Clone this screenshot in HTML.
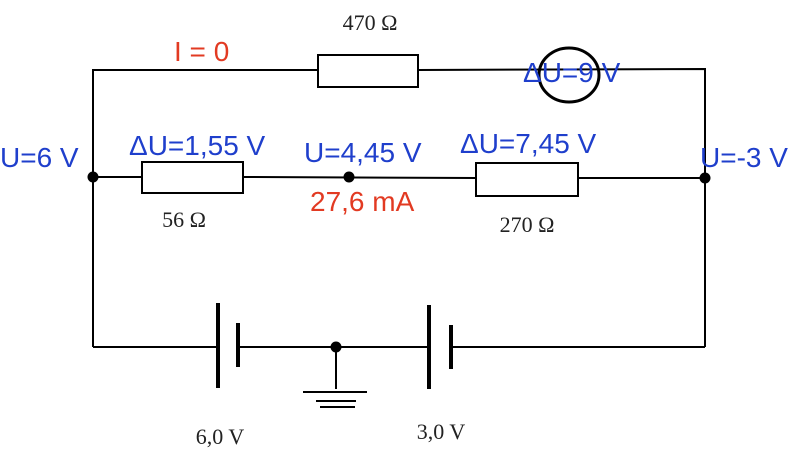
<!DOCTYPE html>
<html><head><meta charset="utf-8"><style>
html,body{margin:0;padding:0;background:#fff;width:800px;height:455px;overflow:hidden}
.s{font-family:"Liberation Sans",sans-serif}
.r{font-family:"Liberation Serif",serif}
</style></head><body>
<svg width="800" height="455" viewBox="0 0 800 455" xmlns="http://www.w3.org/2000/svg">
<g stroke="#000" stroke-width="2" fill="none">
<polyline points="93,347 93,70 318,70"/>
<polyline points="418,70 705,69 705,347"/>
<rect x="318" y="55" width="100" height="32" fill="#fff"/>
<line x1="93" y1="177" x2="142" y2="177"/>
<line x1="243" y1="177" x2="476" y2="178"/>
<line x1="578" y1="178" x2="705" y2="178"/>
<rect x="142" y="162" width="101" height="31" fill="#fff"/>
<rect x="476" y="163" width="102" height="33" fill="#fff"/>
<line x1="93" y1="347" x2="216" y2="347"/>
<line x1="240" y1="347" x2="427" y2="347"/>
<line x1="451" y1="347" x2="705" y2="347"/>
<line x1="336" y1="347" x2="336" y2="389"/>
<line x1="303" y1="392" x2="367" y2="392"/>
<line x1="316" y1="401" x2="356" y2="401"/>
<line x1="320" y1="407" x2="355" y2="407"/>
</g>
<g stroke="#000" stroke-width="4">
<line x1="218" y1="303" x2="218" y2="388"/>
<line x1="238" y1="323" x2="238" y2="367"/>
<line x1="429" y1="305" x2="429" y2="389"/>
<line x1="451" y1="325" x2="451" y2="369"/>
</g>
<ellipse cx="569" cy="75" rx="30" ry="27" stroke="#000" stroke-width="3" fill="none"/>
<g fill="#000">
<circle cx="93" cy="177" r="5.5"/><circle cx="349" cy="177" r="5.5"/>
<circle cx="705" cy="178" r="5.5"/><circle cx="336" cy="347" r="5.5"/>
</g>
<g class="r" font-size="22" fill="#222">
<text x="370" y="30" text-anchor="middle">470 Ω</text>
<text x="184" y="227" text-anchor="middle">56 Ω</text>
<text x="527" y="232" text-anchor="middle">270 Ω</text>
<text x="220" y="444" text-anchor="middle">6,0 V</text>
<text x="441" y="439" text-anchor="middle">3,0 V</text>
</g>
<g class="s" font-size="28" fill="#1f3fcc">
<text x="523" y="82">ΔU=9 V</text>
<text x="0" y="167">U=6 V</text>
<text x="129" y="155">ΔU=1,55 V</text>
<text x="304" y="162">U=4,45 V</text>
<text x="460" y="153">ΔU=7,45 V</text>
<text x="700" y="167">U=-3 V</text>
</g>
<g class="s" font-size="28" fill="#e23a22">
<text x="174" y="61">I = 0</text>
<text x="310" y="211">27,6 mA</text>
</g>
</svg>
</body></html>
